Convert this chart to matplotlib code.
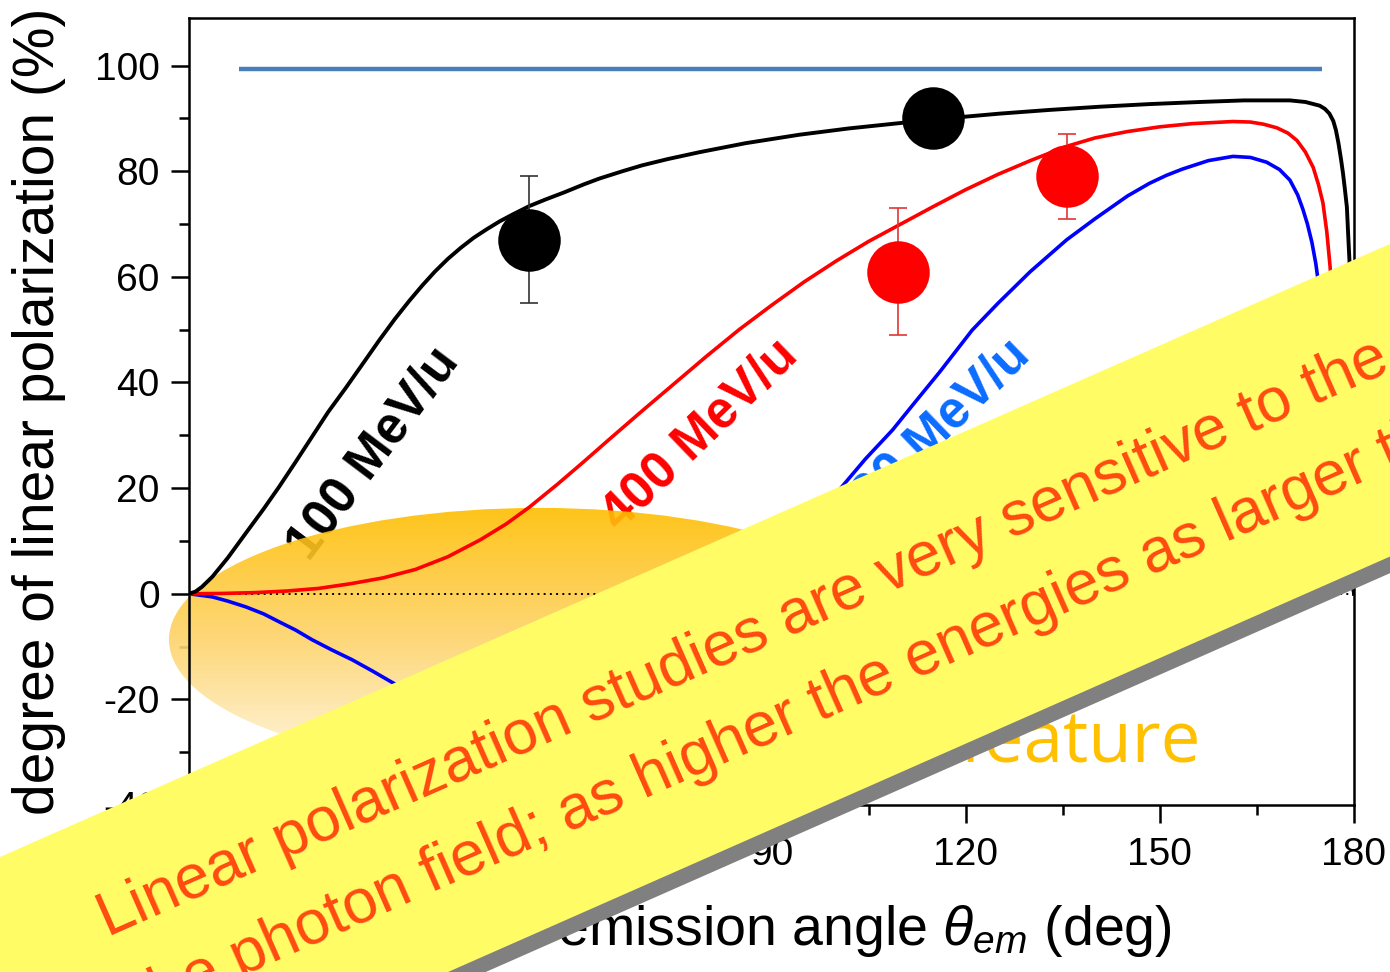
import numpy as np
import matplotlib
matplotlib.use("Agg")
import matplotlib.pyplot as plt
from matplotlib.patches import Ellipse, Polygon
from matplotlib.colors import LinearSegmentedColormap
from matplotlib.ticker import MultipleLocator

plt.rcParams['font.family'] = ['Liberation Sans', 'DejaVu Sans']
plt.rcParams['axes.unicode_minus'] = False
plt.rcParams['mathtext.fontset'] = 'custom'
plt.rcParams['mathtext.it'] = 'Liberation Sans:italic'
plt.rcParams['mathtext.rm'] = 'Liberation Sans'

# ---------------------------------------------------------------- data
# theory, 100 MeV/u
ang_100 = [0, 1, 2, 3.6, 6, 8.8, 11.5, 13.9, 16.5, 19.0, 21.5, 24.3, 27,
           29.4, 31.8, 34, 36, 38, 40, 42, 44, 46, 48, 50, 52.6, 55, 58, 61,
           63.4, 67, 70, 74, 78.9, 86, 94.3, 102, 109.8, 117, 125.3, 133,
           140.7, 148.4, 156.2, 163, 170.1, 172.5, 174.7, 175.5, 176.2, 176.8,
           177.2, 177.6, 178.0, 178.3, 178.6, 178.9, 179.1, 179.3, 179.5,
           179.7, 179.85, 180]
pol_100 = [0, 0.4, 1.3, 3.2, 6.8, 11.5, 16, 20.2, 25, 29.7, 34.4, 39.1, 43.8,
           48, 52, 55.4, 58.3, 61, 63.4, 65.5, 67.4, 69, 70.5, 71.8, 73.4,
           74.6, 76, 77.5, 78.6, 80, 81.1, 82.3, 83.6, 85.3, 86.9, 88.1, 89.1,
           90, 90.9, 91.6, 92.2, 92.7, 93.1, 93.4, 93.4, 93.1, 92.4, 91.8,
           90.9, 89.5, 87.8, 85.3, 82.2, 79.6, 76.5, 73.2, 68, 63, 50, 35, 18,
           0]

# theory, 400 MeV/u
ang_400 = [0, 5, 10, 15, 20, 25, 30, 35, 40, 45, 49, 52.6, 57, 61, 65, 70,
           75, 80, 85, 90, 95, 100, 105, 110, 115, 120, 125, 130, 135.6, 140,
           145, 150, 155, 161.3, 164, 166, 168.1, 169.8, 171.2, 172.5, 173.7,
           174.5, 175.2, 175.8, 176.3, 176.8, 177.3, 178.3, 179.2, 180]
pol_400 = [0, 0.05, 0.2, 0.5, 1.0, 1.9, 3.0, 4.6, 7.0, 10.2, 13.2, 16.4,
           20.8, 25, 29.3, 34.6, 39.8, 45, 50, 54.6, 59, 63, 66.7, 70, 73.3,
           76.5, 79.4, 82, 84.7, 86.3, 87.5, 88.4, 89, 89.4, 89.3, 88.9, 88.2,
           87.2, 85.8, 83.6, 80.7, 77.5, 74, 68.5, 62, 54, 45, 25, 9, 0]

# theory, 800 MeV/u
ang_800 = [0, 3.6, 6, 8.8, 11.5, 13.9, 16.5, 19, 22, 25.2, 28.3, 31.4, 35,
           40, 45, 50, 55, 60, 65, 70, 75, 80, 85, 90, 95, 100.5, 104.5, 108.7,
           112, 116, 121, 125, 130, 135.6, 140, 145, 148.4, 151, 153.5, 157.5,
           161.3, 164, 166.5, 168.5, 170.1, 171.3, 172.1, 172.8, 173.5, 174.1,
           174.6, 175.5, 176.8, 178.2, 179.3, 180]
pol_800 = [0, -0.6, -1.4, -2.5, -3.8, -5.3, -6.9, -8.7, -10.6, -12.5, -14.6,
           -16.8, -19.2, -22, -24, -25, -24.8, -23.5, -21, -17.3, -12.8, -7.8,
           -1, 5.5, 12.5, 19.7, 25.5, 31, 36, 42, 49.9, 55, 61, 67, 71, 75.3,
           77.7, 79.2, 80.4, 82, 82.8, 82.6, 81.7, 80.3, 78.3, 75.5, 72.8, 70,
           66.5, 62.5, 58, 48, 32, 14, 4, 0]

# fully polarized reference
ref_ang = [7.7, 175.0]
ref_pol = [99.4, 99.4]

# measured points
exp_100_ang = [52.6, 114.9]
exp_100_pol = [67, 90]
exp_100_err = [12, 0]
exp_400_ang = [109.5, 135.6]
exp_400_pol = [61, 79]
exp_400_err = [12, 8]

xticks = [0, 30, 60, 90, 120, 150, 180]
yticks = [-40, -20, 0, 20, 40, 60, 80, 100]

W, H = 1390, 972


def fpos(x, y):
    # pixel position (from top-left) -> figure fraction
    return (x / W, 1 - y / H)


fig = plt.figure(figsize=(13.9, 9.72), dpi=100)
ax = fig.add_axes([189 / W, 1 - 805 / H, (1354 - 189) / W, (805 - 18) / H])

# curve labels (sit underneath the glow)
lab = dict(rotation_mode='anchor', ha='center', va='center', fontsize=37,
           fontweight='bold', zorder=1.5)
ax.text(28.6, 26.5, "100 MeV/u", rotation=53, color='black', **lab)
ax.text(79.0, 30.0, "400 MeV/u", rotation=44, color='#FF0000', **lab)
ax.text(114.9, 30.0, "800 MeV/u", rotation=44, color='#0A6CFF', **lab)

# glowing ellipse at small angles
ell = Ellipse((54.1, -8.7), 114.4, 49.9, transform=ax.transData,
              facecolor='none', edgecolor='none')
grad = np.linspace(0, 1, 256).reshape(-1, 1)
glow = LinearSegmentedColormap.from_list(
    'glow', ['#FFBE00', '#FDD36A', '#FFF7E4'])
im = ax.imshow(grad, extent=[-4, 113, -33.7, 16.3], origin='upper',
               cmap=glow, aspect='auto', alpha=0.9, zorder=2,
               interpolation='bilinear')
im.set_clip_box(fig.bbox)
im.set_clip_path(ell)

ax.axhline(0, color='black', lw=1.4, ls=(0, (1, 2.2)), zorder=2.5)

ax.plot(ref_ang, ref_pol, color='#4A7EBB', lw=3.2, zorder=3,
        solid_capstyle='butt')
ax.plot(ang_800, pol_800, color='#0000FF', lw=2.6, zorder=3)
ax.plot(ang_400, pol_400, color='#FF0000', lw=2.6, zorder=3)
ax.plot(ang_100, pol_100, color='black', lw=2.8, zorder=3.1)

ax.errorbar(exp_100_ang, exp_100_pol, yerr=exp_100_err, fmt='o', ms=45,
            color='black', mec='none', ecolor='#333333', elinewidth=1.2,
            capsize=6.5, capthick=1.2, zorder=4)
ax.errorbar(exp_400_ang, exp_400_pol, yerr=exp_400_err, fmt='o', ms=45,
            color='#FF0000', mec='none', ecolor='#E03535', elinewidth=1.2,
            capsize=6.5, capthick=1.2, zorder=4)

ax.text(156.3, -31.9, "feature", ha='right', va='baseline', fontsize=51,
        family='Open Sans', color='#FFC000', zorder=2, clip_on=False)

ax.set_xlim(0, 180)
ax.set_ylim(-40, 109)
ax.set_xticks(xticks)
ax.set_yticks(yticks)
ax.xaxis.set_minor_locator(MultipleLocator(15))
ax.yaxis.set_minor_locator(MultipleLocator(10))
ax.tick_params(which='both', direction='out', width=1.8, labelsize=28,
               top=False, right=False)
ax.tick_params(axis='y', which='major', length=13, pad=8)
ax.tick_params(axis='x', which='major', length=13, pad=10)
ax.tick_params(which='minor', length=7)
for sp in ax.spines.values():
    sp.set_linewidth(1.8)

ax.set_ylabel("degree of linear polarization (%)", fontsize=41)
ax.yaxis.set_label_coords(-0.106, 0.5)
ax.set_xlabel(r"photon emission angle $\theta_{em}$ (deg)", fontsize=40)
ax.xaxis.set_label_coords(0.5, -0.124)

# highlight banner across the lower part of the figure
tilt = 23.8
t = np.tan(np.radians(tilt))
x0, x1 = -80, 1470
shadow = Polygon([fpos(x0 + 6, 857 + t * 80 + 14), fpos(x1 + 6, 857 - t * x1 + 14),
                  fpos(x1 + 6, 1169.6 - t * x1 + 14), fpos(x0 + 6, 1169.6 + t * 80 + 14)],
                 closed=True, transform=fig.transFigure, facecolor='#808080',
                 edgecolor='none', zorder=10)
banner = Polygon([fpos(x0, 857 + t * 80), fpos(x1, 857 - t * x1),
                  fpos(x1, 1169.6 - t * x1), fpos(x0, 1169.6 + t * 80)],
                 closed=True, transform=fig.transFigure, facecolor='#FFFC66',
                 edgecolor='none', zorder=11)
fig.add_artist(shadow)
fig.add_artist(banner)

line_1 = "Linear polarization studies are very sensitive to the vector"
line_2 = "the photon field; as higher the energies as larger the effect"
s, c = np.sin(np.radians(tilt)), np.cos(np.radians(tilt))
for i, txt in enumerate([line_1, line_2]):
    bx, by = 108 + i * 90 * s, 937 + i * 90 * c
    fig.text(*fpos(bx, by), txt, rotation=tilt, rotation_mode='anchor',
             ha='left', va='baseline', fontsize=45, color='#FF4A10',
             zorder=12)

fig.savefig("out.png", dpi=100)
